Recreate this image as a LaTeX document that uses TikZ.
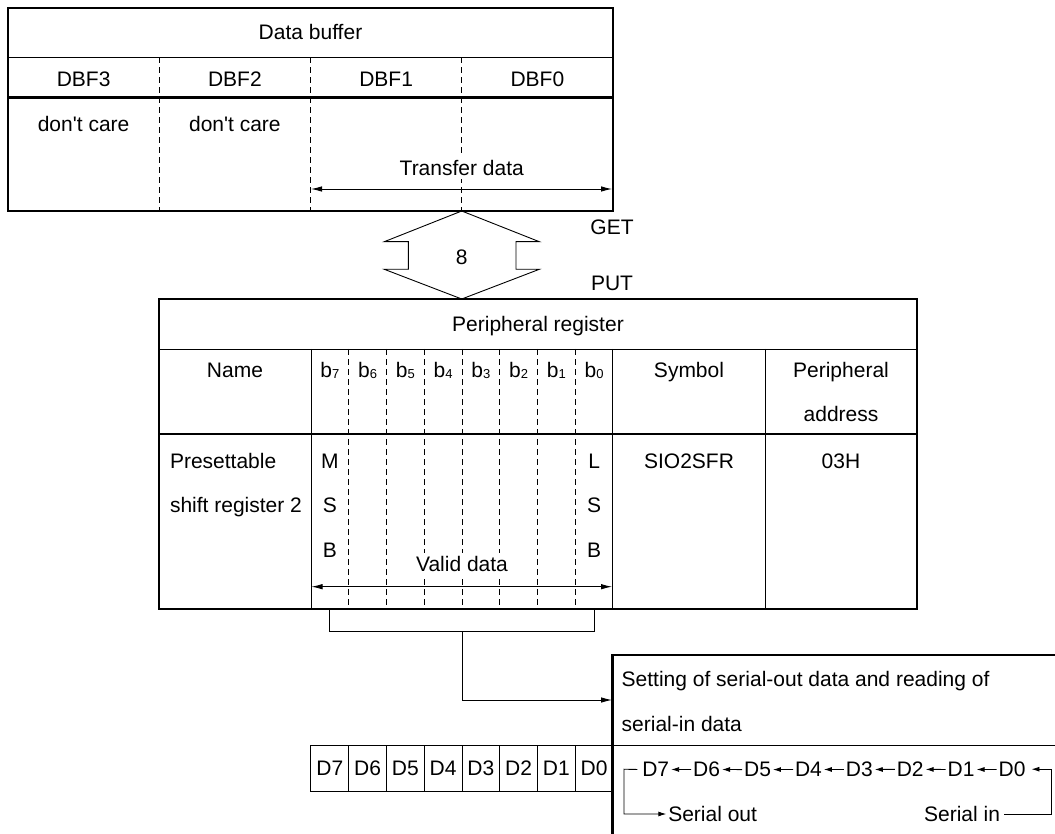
\documentclass[tikz,border=0pt]{standalone}
\usepackage{fontspec}
\setmainfont{Liberation Sans}
\usetikzlibrary{arrows.meta,calc}
\newcommand\bsub[1]{b\raisebox{-1.5pt}{\fontsize{13}{13}\selectfont #1}}
\begin{document}
\begin{tikzpicture}[x=1pt,y=-1pt,
  every node/.style={inner sep=0pt,outer sep=0pt,font=\fontsize{21}{25}\selectfont},
  thickln/.style={line width=2.6pt},
  thinln/.style={line width=0.9pt},
  dashln/.style={line width=0.9pt,dash pattern=on 6pt off 4pt},
  tipend/.style={thinln,-{Latex[length=11pt,width=5.5pt]}},
  tipboth/.style={thinln,{Latex[length=11pt,width=5.5pt]}-{Latex[length=11pt,width=5.5pt]}},
  chainarr/.style={thinln,-{Latex[length=8pt,width=5pt]},shorten >=2pt,shorten <=2pt},
  masked/.style={fill=white,inner xsep=2pt,inner ysep=3pt}
]
\useasboundingbox (0,0) rectangle (1055,834);

% ---------------- Data buffer ----------------
\draw[thickln] (8,8) rectangle (613,211);
\draw[thinln] (8,57.3) -- (613,57.3);
\draw[thickln] (8,97.3) -- (613,97.3);
\foreach \x in {159.25,310.5,461.75} \draw[dashln] (\x,57.3) -- (\x,211);
\node[anchor=base] (dbtitle) at (310.5,40) {Data buffer};
\node[anchor=base] (dbf3) at (83.6,86.5) {DBF3};
\node[anchor=base] (dbf2) at (234.9,86.5) {DBF2};
\node[anchor=base] (dbf1) at (386.1,86.5) {DBF1};
\node[anchor=base] (dbf0) at (537.4,86.5) {DBF0};
\node[anchor=base] (dc3) at (83.6,131.7) {don\textquotesingle t care};
\node[anchor=base] (dc2) at (234.9,131.7) {don\textquotesingle t care};
\node[anchor=base,masked] (tdata) at (461.75,175.5) {Transfer data};
\coordinate (tl) at (311,189);
\coordinate (tr) at (612,189);
\draw[tipboth] (tl) -- (tr);

% ---------------- GET / PUT double arrow ----------------
\coordinate (gtop) at (461.75,211);
\coordinate (gbot) at (461.75,299);
\draw[thinln,line join=miter] (gtop) -- (539.3,241.7) -- (516,241.7) -- (516,269.3) -- (539.3,269.3)
  -- (gbot) -- (384.3,269.3) -- (408.3,269.3) -- (408.3,241.7) -- (384.3,241.7) -- cycle;
\node[anchor=base] (eight) at (461.75,264.5) {8};
\node[anchor=base] (get) at (612,235) {GET};
\node[anchor=base] (put) at (612,290.7) {PUT};

% ---------------- Peripheral register ----------------
\draw[thickln] (159,299) rectangle (917,609);
\draw[thinln] (159,349) -- (917,349);
\draw[thickln] (159,434) -- (917,434);
\foreach \x in {311,612.7,765.5} \draw[thinln] (\x,349) -- (\x,609);
\foreach \i in {1,...,7} \draw[dashln] ({311+37.75*\i},349) -- ({311+37.75*\i},609);
\node[anchor=base] (prtitle) at (538,331.7) {Peripheral register};
\node[anchor=base] (hname) at (235,377.3) {Name};
\foreach \i/\b in {0/7,1/6,2/5,3/4,4/3,5/2,6/1,7/0}
  \node[anchor=base] (hb\b) at ({311+37.75*(\i+0.5)},377.3) {\bsub{\b}};
\node[anchor=base] (hsym) at (689,377.3) {Symbol};
\node[anchor=base] (hper) at (841,377.3) {Peripheral};
\node[anchor=base] (hadr) at (841,421.8) {address};
\node[anchor=base west] (rn1) at (170,468.3) {Presettable};
\node[anchor=base west] (rn2) at (170,512.8) {shift register 2};
\node[anchor=base] (m1) at (329.9,468.3) {M};
\node[anchor=base] (m2) at (329.9,512.8) {S};
\node[anchor=base] (m3) at (329.9,557.3) {B};
\node[anchor=base] (l1) at (594.1,468.3) {L};
\node[anchor=base] (l2) at (594.1,512.8) {S};
\node[anchor=base] (l3) at (594.1,557.3) {B};
\node[anchor=base] (sym) at (689,468.3) {SIO2SFR};
\node[anchor=base] (adr) at (841,468.3) {03H};
\node[anchor=base,masked] (vdata) at (462,571.7) {Valid data};
\coordinate (vl) at (311.5,586.7);
\coordinate (vr) at (612,586.7);
\draw[tipboth] (vl) -- (vr);

% ---------------- bracket and connector ----------------
\coordinate (bl) at (329.3,609);
\coordinate (br) at (594,609);
\coordinate (bm) at (462,631.7);
\coordinate (bend) at (462,700);
\draw[thinln] (bl) |- (br |- bm) -- (br);
\coordinate (boxin) at (612,700);
\draw[tipend] (bm) -- (bend) -- (boxin);

% ---------------- Setting box ----------------
\draw[thickln] (1060,655) -- (612.5,655) -- (612.5,840);
\draw[thinln] (612.5,745) -- (1060,745);
\node[anchor=base west] (set1) at (621.7,686.7) {Setting of serial-out data and reading of};
\node[anchor=base west] (set2) at (621.7,731.7) {serial-in data};

% D7..D0 cells
\draw[thinln] (310.7,745) rectangle (612.5,791);
\foreach \i in {1,...,7} \draw[thinln] ({311+37.75*\i},745) -- ({311+37.75*\i},791);
\foreach \i/\b in {0/7,1/6,2/5,3/4,4/3,5/2,6/1,7/0}
  \node[anchor=base] (cell\b) at ({311+37.75*(\i+0.5)},775.7) {D\b};

% shift chain
\foreach \i/\b in {0/7,1/6,2/5,3/4,4/3,5/2,6/1,7/0}
  \node[anchor=base west] (d\b) at ({642.3+50.9*\i},776.7) {D\b};
\foreach \a/\b in {6/7,5/6,4/5,3/4,2/3,1/2,0/1}
  \draw[chainarr] (d\a.west) -- (d\b.east);
\node[anchor=base west] (sout) at (668.3,821) {Serial out};
\node[anchor=base east] (sin) at (1000,821) {Serial in};
\coordinate (sl1) at (624,769.2);
\coordinate (sl2) at (624,814);
\draw[thinln,-{Latex[length=8pt,width=5pt]},shorten >=2pt] ([xshift=-5pt]d7.west) -- (sl1) -- (sl2) -- (sout.west |- sl2);
\coordinate (sr1) at (1051.7,814);
\coordinate (sr2) at (1051.7,769.2);
\draw[thinln,-{Latex[length=8pt,width=5pt]},shorten >=6pt] ([xshift=4pt]sin.east |- sr1) -- (sr1) -- (sr2) -- (d0.east |- sr2);
\end{tikzpicture}
\end{document}
